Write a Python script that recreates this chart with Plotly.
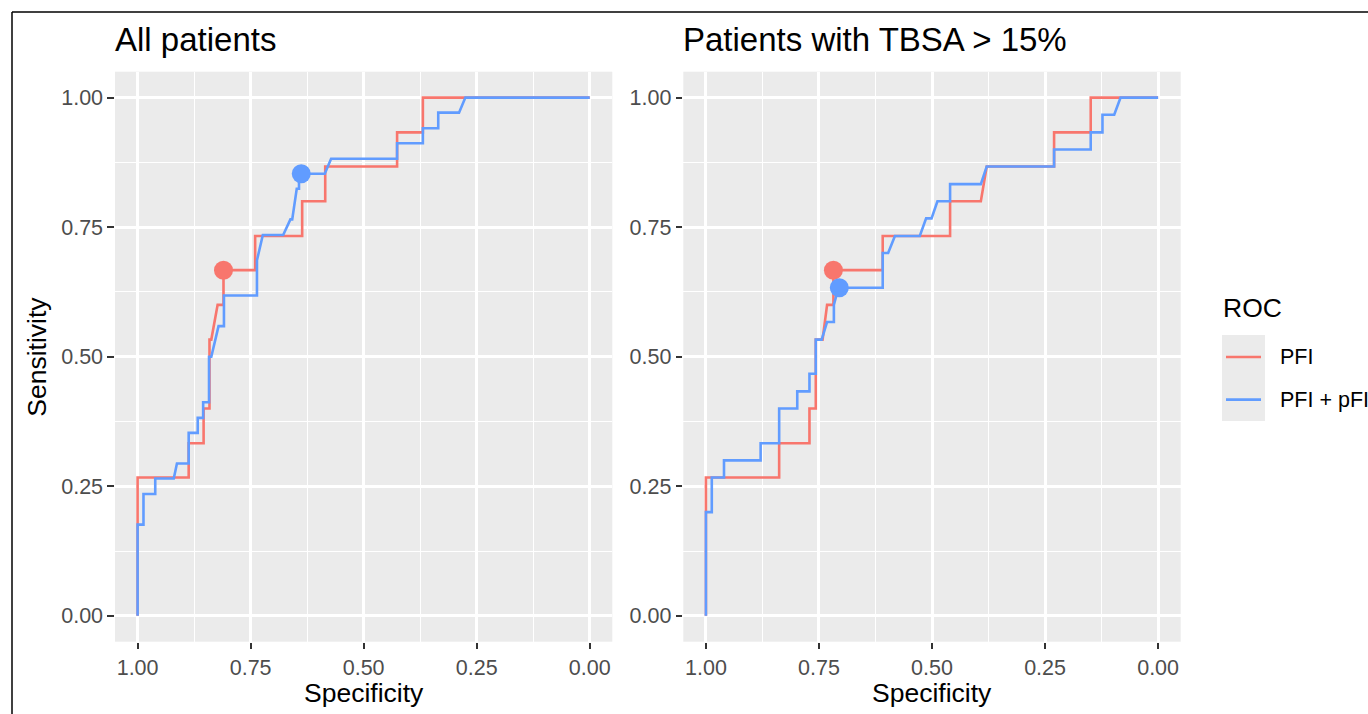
import plotly.graph_objects as go

# ---------------- data ----------------
tick_vals = [1.0, 0.75, 0.5, 0.25, 0.0]
tick_text = ["1.00", "0.75", "0.50", "0.25", "0.00"]
minor_vals = [0.875, 0.625, 0.375, 0.125]
series_names = ["PFI", "PFI + pFI"]
panel_titles = ["All patients", "Patients with TBSA > 15%"]

# All patients - PFI
all_pfi_spec = [1.0, 1.0, 0.887, 0.887, 0.854, 0.854, 0.841, 0.841, 0.837, 0.823, 0.810, 0.810,
                0.740, 0.740, 0.636, 0.636, 0.585, 0.585, 0.426, 0.426, 0.369, 0.369, 0.277, 0.0]
all_pfi_sens = [0.0, 0.267, 0.267, 0.333, 0.333, 0.4, 0.4, 0.533, 0.533, 0.6, 0.6, 0.667,
                0.667, 0.733, 0.733, 0.8, 0.8, 0.867, 0.867, 0.933, 0.933, 1.0, 1.0, 1.0]
# All patients - PFI + pFI
all_comb_spec = [1.0, 1.0, 0.987, 0.987, 0.961, 0.961, 0.920, 0.913, 0.887, 0.887, 0.867, 0.867,
                 0.855, 0.855, 0.842, 0.842, 0.837, 0.821, 0.809, 0.809, 0.736, 0.736, 0.723, 0.678,
                 0.662, 0.658, 0.648, 0.643, 0.643, 0.586, 0.572, 0.426, 0.426, 0.369, 0.369, 0.335,
                 0.335, 0.289, 0.275, 0.0]
all_comb_sens = [0.0, 0.176, 0.176, 0.235, 0.235, 0.265, 0.265, 0.294, 0.294, 0.353, 0.353, 0.382,
                 0.382, 0.412, 0.412, 0.5, 0.5, 0.559, 0.559, 0.618, 0.618, 0.686, 0.735, 0.735,
                 0.765, 0.765, 0.824, 0.824, 0.853, 0.853, 0.882, 0.882, 0.912, 0.912, 0.941, 0.941,
                 0.971, 0.971, 1.0, 1.0]
# TBSA > 15% - PFI
tbsa_pfi_spec = [1.0, 1.0, 0.838, 0.838, 0.771, 0.771, 0.757, 0.757, 0.742, 0.732, 0.718, 0.718,
                 0.609, 0.609, 0.460, 0.460, 0.392, 0.379, 0.230, 0.230, 0.149, 0.149, 0.084, 0.0]
tbsa_pfi_sens = [0.0, 0.267, 0.267, 0.333, 0.333, 0.4, 0.4, 0.533, 0.533, 0.6, 0.6, 0.667,
                 0.667, 0.733, 0.733, 0.8, 0.8, 0.867, 0.867, 0.933, 0.933, 1.0, 1.0, 1.0]
# TBSA > 15% - PFI + pFI
tbsa_comb_spec = [1.0, 1.0, 0.987, 0.987, 0.960, 0.960, 0.879, 0.879, 0.838, 0.838, 0.798, 0.798,
                  0.771, 0.771, 0.757, 0.757, 0.744, 0.732, 0.717, 0.717, 0.707, 0.609, 0.609, 0.597,
                  0.582, 0.527, 0.513, 0.501, 0.488, 0.460, 0.460, 0.392, 0.379, 0.230, 0.230, 0.149,
                  0.149, 0.123, 0.123, 0.097, 0.083, 0.0]
tbsa_comb_sens = [0.0, 0.2, 0.2, 0.267, 0.267, 0.3, 0.3, 0.333, 0.333, 0.4, 0.4, 0.433,
                  0.433, 0.467, 0.467, 0.533, 0.533, 0.567, 0.567, 0.6, 0.633, 0.633, 0.7, 0.7,
                  0.733, 0.733, 0.767, 0.767, 0.8, 0.8, 0.833, 0.833, 0.867, 0.867, 0.9, 0.9,
                  0.933, 0.933, 0.967, 0.967, 1.0, 1.0]

# best thresholds (points)
all_best_spec = [0.810, 0.638]
all_best_sens = [0.667, 0.853]
tbsa_best_spec = [0.718, 0.705]
tbsa_best_sens = [0.667, 0.633]

# ---------------- style ----------------
W, H = 1368, 714
RED, BLUE = "#F8766D", "#619CFF"
colors = [RED, BLUE]
FONT = "Liberation Sans"
PANEL_BG = "#EBEBEB"


def px(x):
    return x / W


def py(y):
    return 1 - y / H


fig = go.Figure()

panels = [
    ("x", "y", [(all_pfi_spec, all_pfi_sens), (all_comb_spec, all_comb_sens)], (all_best_spec, all_best_sens)),
    ("x2", "y2", [(tbsa_pfi_spec, tbsa_pfi_sens), (tbsa_comb_spec, tbsa_comb_sens)], (tbsa_best_spec, tbsa_best_sens)),
]
for xa, ya, curves, best in panels:
    for (sx, sy), c, nm in zip(curves, colors, series_names):
        fig.add_trace(go.Scatter(x=sx, y=sy, mode="lines", line=dict(color=c, width=2.6),
                                 name=nm, xaxis=xa, yaxis=ya, showlegend=False, hoverinfo="skip"))
    for i, c in enumerate(colors):
        fig.add_trace(go.Scatter(x=[best[0][i]], y=[best[1][i]], mode="markers",
                                 marker=dict(color=c, size=19, line=dict(width=0)),
                                 xaxis=xa, yaxis=ya, showlegend=False, hoverinfo="skip"))

axis_common = dict(
    tickvals=tick_vals, ticktext=tick_text,
    showgrid=True, gridcolor="white", gridwidth=2.5,
    minor=dict(tickvals=minor_vals, showgrid=True, gridcolor="white", gridwidth=1.3, ticks=""),
    ticks="outside", ticklen=6.6, tickwidth=2.4, tickcolor="#333333",
    tickfont=dict(family=FONT, size=21.5, color="#4D4D4D"),
    zeroline=False, showline=False, fixedrange=True,
)

ydom = [py(641.7), py(71.7)]
fig.update_layout(
    width=W, height=H,
    margin=dict(l=0, r=0, t=0, b=0),
    paper_bgcolor="white", plot_bgcolor=PANEL_BG,
    font=dict(family=FONT),
    showlegend=False,
    xaxis=dict(domain=[px(115), px(612.3)], range=[1.05, -0.05], anchor="y", **axis_common),
    yaxis=dict(domain=ydom, range=[-0.05, 1.05], anchor="x", **axis_common),
    xaxis2=dict(domain=[px(683.3), px(1180.7)], range=[1.05, -0.05], anchor="y2", **axis_common),
    yaxis2=dict(domain=ydom, range=[-0.05, 1.05], anchor="x2", **axis_common),
)

annotations = [
    dict(text=panel_titles[0], x=px(113), y=py(39.5), xanchor="left", yanchor="middle",
         font=dict(size=33, color="black", family=FONT)),
    dict(text=panel_titles[1], x=px(681), y=py(39.5), xanchor="left", yanchor="middle",
         font=dict(size=33, color="black", family=FONT)),
    dict(text="Specificity", x=px(363.7), y=py(693), xanchor="center", yanchor="middle",
         font=dict(size=26.5, color="black", family=FONT)),
    dict(text="Specificity", x=px(932), y=py(693), xanchor="center", yanchor="middle",
         font=dict(size=26.5, color="black", family=FONT)),
    dict(text="Sensitivity", x=px(37), y=py(356.7), xanchor="center", yanchor="middle",
         textangle=-90, font=dict(size=26.5, color="black", family=FONT)),
    dict(text="ROC", x=px(1221), y=py(308), xanchor="left", yanchor="middle",
         font=dict(size=26.5, color="black", family=FONT)),
]
for i, nm in enumerate(series_names):
    annotations.append(dict(text=nm, x=px(1278), y=py(357 + 42.6 * i), xanchor="left", yanchor="middle",
                            font=dict(size=21.5, color="black", family=FONT)))
for a in annotations:
    a.update(xref="paper", yref="paper", showarrow=False)
fig.update_layout(annotations=annotations)

shapes = [
    # outer frame (top and left edges visible)
    dict(type="line", x0=px(12), x1=1.0, y0=py(12), y1=py(12), line=dict(color="black", width=1.5)),
    dict(type="line", x0=px(12), x1=px(12), y0=py(12), y1=0.0, line=dict(color="black", width=1.5)),
    # legend key background
    dict(type="rect", x0=px(1222), x1=px(1265), y0=py(335), y1=py(421), fillcolor=PANEL_BG,
         line=dict(width=0)),
]
for i, c in enumerate(colors):
    yy = py(357 + 42.6 * i)
    shapes.append(dict(type="line", x0=px(1226), x1=px(1261), y0=yy, y1=yy, line=dict(color=c, width=2.6)))
for s in shapes:
    s.update(xref="paper", yref="paper", layer="above")
fig.update_layout(shapes=shapes)

fig.write_html("out.html")
